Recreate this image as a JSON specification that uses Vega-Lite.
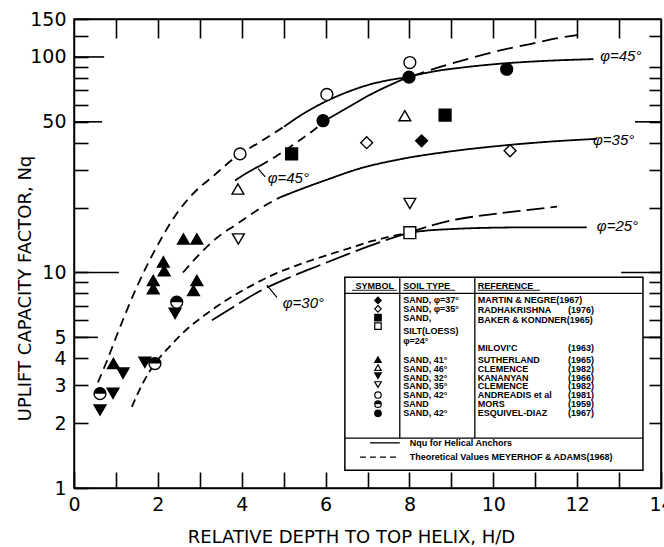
{
  "$schema": "https://vega.github.io/schema/vega-lite/v6.json",
  "width": 587,
  "height": 469,
  "autosize": {"type": "none"},
  "padding": {"left": 74, "top": 19, "right": 3, "bottom": 59},
  "background": "white",
  "config": {
    "view": {"stroke": "black", "strokeWidth": 1.5},
    "axis": {
      "grid": false,
      "labelFont": "DejaVu Sans",
      "labelFontSize": 19,
      "labelColor": "black",
      "ticks": true,
      "tickColor": "black",
      "tickWidth": 1.6,
      "tickOpacity": 1,
      "domainColor": "black",
      "domainWidth": 1.5,
      "titleFont": "DejaVu Sans",
      "titleFontSize": 18,
      "titleFontWeight": "normal",
      "titleColor": "black",
      "labelOverlap": false,
      "labelFlush": false,
      "labelBound": false,
      "zindex": 1
    }
  },
  "datasets": {
    "one": [{}],
    "curves": [
      {"curve": "Theoretical phi=45", "seg": "T45a", "x": 0.57, "y": 3.09},
      {"curve": "Theoretical phi=45", "seg": "T45a", "x": 0.79, "y": 3.91},
      {"curve": "Theoretical phi=45", "seg": "T45a", "x": 1.0, "y": 4.99},
      {"curve": "Theoretical phi=45", "seg": "T45a", "x": 1.24, "y": 6.53},
      {"curve": "Theoretical phi=45", "seg": "T45a", "x": 1.48, "y": 8.42},
      {"curve": "Theoretical phi=45", "seg": "T45a", "x": 1.74, "y": 10.77},
      {"curve": "Theoretical phi=45", "seg": "T45a", "x": 2.05, "y": 14.0},
      {"curve": "Theoretical phi=45", "seg": "T45a", "x": 2.41, "y": 18.3},
      {"curve": "Theoretical phi=45", "seg": "T45a", "x": 2.84, "y": 23.2},
      {"curve": "Theoretical phi=45", "seg": "T45a", "x": 3.31, "y": 27.9},
      {"curve": "Theoretical phi=45", "seg": "T45a", "x": 3.96, "y": 35.5},
      {"curve": "Theoretical phi=45", "seg": "T45a", "x": 4.36, "y": 39.5},
      {"curve": "Theoretical phi=45", "seg": "T45a", "x": 4.75, "y": 44.1},
      {"curve": "Theoretical phi=45", "seg": "T45a", "x": 5.01, "y": 47.5},
      {"curve": "Theoretical phi=45", "seg": "T45b", "x": 5.01, "y": 47.5},
      {"curve": "Theoretical phi=45", "seg": "T45b", "x": 5.5, "y": 55.0},
      {"curve": "Theoretical phi=45", "seg": "T45b", "x": 6.03, "y": 62.5},
      {"curve": "Theoretical phi=45", "seg": "T45b", "x": 6.5, "y": 68.5},
      {"curve": "Theoretical phi=45", "seg": "T45b", "x": 7.0, "y": 74.0},
      {"curve": "Theoretical phi=45", "seg": "T45b", "x": 7.5, "y": 78.0},
      {"curve": "Theoretical phi=45", "seg": "T45b", "x": 7.99, "y": 80.6},
      {"curve": "Theoretical phi=45", "seg": "T45c", "x": 7.99, "y": 80.6},
      {"curve": "Theoretical phi=45", "seg": "T45c", "x": 8.73, "y": 89.9},
      {"curve": "Theoretical phi=45", "seg": "T45c", "x": 9.44, "y": 98.5},
      {"curve": "Theoretical phi=45", "seg": "T45c", "x": 10.16, "y": 107.2},
      {"curve": "Theoretical phi=45", "seg": "T45c", "x": 10.88, "y": 114.8},
      {"curve": "Theoretical phi=45", "seg": "T45c", "x": 11.59, "y": 122.7},
      {"curve": "Theoretical phi=45", "seg": "T45c", "x": 12.0, "y": 126.4},
      {"curve": "Helical phi=45", "seg": "H45a", "x": 3.84, "y": 26.7},
      {"curve": "Helical phi=45", "seg": "H45a", "x": 4.1, "y": 28.8},
      {"curve": "Helical phi=45", "seg": "H45a", "x": 4.44, "y": 31.3},
      {"curve": "Helical phi=45", "seg": "H45b", "x": 4.44, "y": 31.3},
      {"curve": "Helical phi=45", "seg": "H45b", "x": 4.84, "y": 34.8},
      {"curve": "Helical phi=45", "seg": "H45b", "x": 5.22, "y": 39.0},
      {"curve": "Helical phi=45", "seg": "H45b", "x": 5.7, "y": 45.5},
      {"curve": "Helical phi=45", "seg": "H45b", "x": 5.94, "y": 49.5},
      {"curve": "Helical phi=45", "seg": "H45c", "x": 5.94, "y": 50.0},
      {"curve": "Helical phi=45", "seg": "H45c", "x": 6.5, "y": 57.8},
      {"curve": "Helical phi=45", "seg": "H45c", "x": 6.98, "y": 65.5},
      {"curve": "Helical phi=45", "seg": "H45c", "x": 7.5, "y": 73.5},
      {"curve": "Helical phi=45", "seg": "H45c", "x": 7.99, "y": 80.6},
      {"curve": "Helical phi=45", "seg": "H45c", "x": 8.56, "y": 85.5},
      {"curve": "Helical phi=45", "seg": "H45c", "x": 9.3, "y": 89.5},
      {"curve": "Helical phi=45", "seg": "H45c", "x": 10.16, "y": 93.0},
      {"curve": "Helical phi=45", "seg": "H45c", "x": 11.2, "y": 95.8},
      {"curve": "Helical phi=45", "seg": "H45c", "x": 12.39, "y": 97.7},
      {"curve": "Theoretical phi=35", "seg": "T35a", "x": 2.6, "y": 10.0},
      {"curve": "Theoretical phi=35", "seg": "T35a", "x": 3.0, "y": 12.2},
      {"curve": "Theoretical phi=35", "seg": "T35a", "x": 3.41, "y": 14.5},
      {"curve": "Theoretical phi=35", "seg": "T35a", "x": 3.89, "y": 16.8},
      {"curve": "Theoretical phi=35", "seg": "T35a", "x": 4.36, "y": 19.4},
      {"curve": "Theoretical phi=35", "seg": "T35a", "x": 4.91, "y": 22.3},
      {"curve": "Helical phi=35", "seg": "H35", "x": 4.91, "y": 22.3},
      {"curve": "Helical phi=35", "seg": "H35", "x": 5.4, "y": 24.3},
      {"curve": "Helical phi=35", "seg": "H35", "x": 6.0, "y": 26.8},
      {"curve": "Helical phi=35", "seg": "H35", "x": 6.8, "y": 30.3},
      {"curve": "Helical phi=35", "seg": "H35", "x": 7.77, "y": 33.5},
      {"curve": "Helical phi=35", "seg": "H35", "x": 9.0, "y": 36.5},
      {"curve": "Helical phi=35", "seg": "H35", "x": 10.16, "y": 38.7},
      {"curve": "Helical phi=35", "seg": "H35", "x": 11.3, "y": 40.4},
      {"curve": "Helical phi=35", "seg": "H35", "x": 12.47, "y": 41.7},
      {"curve": "Theoretical phi=30", "seg": "T30", "x": 1.38, "y": 2.38},
      {"curve": "Theoretical phi=30", "seg": "T30", "x": 1.64, "y": 3.06},
      {"curve": "Theoretical phi=30", "seg": "T30", "x": 1.93, "y": 3.78},
      {"curve": "Theoretical phi=30", "seg": "T30", "x": 2.29, "y": 4.55},
      {"curve": "Theoretical phi=30", "seg": "T30", "x": 2.69, "y": 5.45},
      {"curve": "Theoretical phi=30", "seg": "T30", "x": 3.17, "y": 6.45},
      {"curve": "Theoretical phi=30", "seg": "T30", "x": 3.64, "y": 7.45},
      {"curve": "Theoretical phi=30", "seg": "T30", "x": 4.19, "y": 8.6},
      {"curve": "Theoretical phi=30", "seg": "T30", "x": 4.74, "y": 9.75},
      {"curve": "Theoretical phi=30", "seg": "T30", "x": 5.38, "y": 10.9},
      {"curve": "Theoretical phi=30", "seg": "T30", "x": 6.02, "y": 12.0},
      {"curve": "Theoretical phi=30", "seg": "T30", "x": 6.64, "y": 13.1},
      {"curve": "Theoretical phi=30", "seg": "T30", "x": 7.12, "y": 14.0},
      {"curve": "Theoretical phi=30", "seg": "T30", "x": 7.99, "y": 15.3},
      {"curve": "Theoretical phi=25", "seg": "T25", "x": 7.99, "y": 15.3},
      {"curve": "Theoretical phi=25", "seg": "T25", "x": 8.97, "y": 17.4},
      {"curve": "Theoretical phi=25", "seg": "T25", "x": 9.75, "y": 18.4},
      {"curve": "Theoretical phi=25", "seg": "T25", "x": 10.64, "y": 19.3},
      {"curve": "Theoretical phi=25", "seg": "T25", "x": 11.52, "y": 20.2},
      {"curve": "Helical phi=30", "seg": "H30", "x": 3.29, "y": 6.0},
      {"curve": "Helical phi=30", "seg": "H30", "x": 3.79, "y": 6.9},
      {"curve": "Helical phi=30", "seg": "H30", "x": 4.36, "y": 8.05},
      {"curve": "Helical phi=30", "seg": "H30", "x": 5.15, "y": 9.5},
      {"curve": "Helical phi=30", "seg": "H30", "x": 5.86, "y": 10.8},
      {"curve": "Helical phi=30", "seg": "H30", "x": 6.5, "y": 12.1},
      {"curve": "Helical phi=30", "seg": "H30", "x": 7.05, "y": 13.3},
      {"curve": "Helical phi=30", "seg": "H30", "x": 7.99, "y": 15.3},
      {"curve": "Helical phi=25", "seg": "H25", "x": 7.99, "y": 15.3},
      {"curve": "Helical phi=25", "seg": "H25", "x": 8.5, "y": 15.7},
      {"curve": "Helical phi=25", "seg": "H25", "x": 9.0, "y": 15.9},
      {"curve": "Helical phi=25", "seg": "H25", "x": 9.75, "y": 16.1},
      {"curve": "Helical phi=25", "seg": "H25", "x": 11.0, "y": 16.2},
      {"curve": "Helical phi=25", "seg": "H25", "x": 12.23, "y": 16.2}
    ],
    "points": [
      {"src": "Kananyan 1966", "x": 0.62, "y": 2.3},
      {"src": "Kananyan 1966", "x": 0.93, "y": 2.75},
      {"src": "Kananyan 1966", "x": 1.17, "y": 3.41},
      {"src": "Kananyan 1966", "x": 1.69, "y": 3.83},
      {"src": "Kananyan 1966", "x": 2.41, "y": 6.46},
      {"src": "Mors 1959", "x": 0.62, "y": 2.74},
      {"src": "Mors 1959", "x": 1.93, "y": 3.78},
      {"src": "Mors 1959", "x": 2.45, "y": 7.28},
      {"src": "Sutherland 1965", "x": 0.94, "y": 3.78},
      {"src": "Sutherland 1965", "x": 1.89, "y": 9.18},
      {"src": "Sutherland 1965", "x": 1.89, "y": 8.4},
      {"src": "Sutherland 1965", "x": 2.13, "y": 11.2},
      {"src": "Sutherland 1965", "x": 2.15, "y": 10.2},
      {"src": "Sutherland 1965", "x": 2.61, "y": 14.3},
      {"src": "Sutherland 1965", "x": 2.93, "y": 14.3},
      {"src": "Sutherland 1965", "x": 2.93, "y": 9.18},
      {"src": "Sutherland 1965", "x": 2.85, "y": 8.25},
      {"src": "Clemence 1982 (46)", "x": 3.91, "y": 24.4},
      {"src": "Clemence 1982 (46)", "x": 7.89, "y": 53.4},
      {"src": "Clemence 1982 (35)", "x": 3.92, "y": 14.3},
      {"src": "Clemence 1982 (35)", "x": 8.01, "y": 20.9},
      {"src": "Andreadis et al 1981", "x": 3.96, "y": 35.5},
      {"src": "Andreadis et al 1981", "x": 6.03, "y": 67.0},
      {"src": "Andreadis et al 1981", "x": 8.01, "y": 94.2},
      {"src": "Esquivel-Diaz 1967", "x": 5.94, "y": 50.6},
      {"src": "Esquivel-Diaz 1967", "x": 7.99, "y": 80.6},
      {"src": "Esquivel-Diaz 1967", "x": 10.32, "y": 87.7},
      {"src": "Baker & Kondner 1965", "x": 5.19, "y": 35.5},
      {"src": "Baker & Kondner 1965", "x": 8.85, "y": 53.7},
      {"src": "Radhakrishna 1976", "x": 6.98, "y": 40.0},
      {"src": "Radhakrishna 1976", "x": 10.4, "y": 36.7},
      {"src": "Martin & Negre 1967", "x": 8.29, "y": 40.8},
      {"src": "Milovic 1963", "x": 8.01, "y": 15.3}
    ],
    "legendSymbols": [
      {"src": "Martin & Negre 1967", "ly": 7.42},
      {"src": "Radhakrishna 1976", "ly": 6.78},
      {"src": "Baker & Kondner 1965", "ly": 6.17},
      {"src": "Milovic 1963", "ly": 5.64},
      {"src": "Sutherland 1965", "ly": 3.94},
      {"src": "Clemence 1982 (46)", "ly": 3.62},
      {"src": "Kananyan 1966", "ly": 3.32},
      {"src": "Clemence 1982 (35)", "ly": 3.02},
      {"src": "Andreadis et al 1981", "ly": 2.7},
      {"src": "Mors 1959", "ly": 2.45},
      {"src": "Esquivel-Diaz 1967", "ly": 2.22}
    ],
    "legendText": [
      {"col": "soil", "text": "SAND, φ=37°", "ly": 7.42},
      {"col": "soil", "text": "SAND, φ=35°", "ly": 6.78},
      {"col": "soil", "text": "SAND,", "ly": 6.17},
      {"col": "soil", "text": "SILT(LOESS)", "ly": 5.36},
      {"col": "soil", "text": "φ=24°", "ly": 4.79},
      {"col": "soil", "text": "SAND, 41°", "ly": 3.94},
      {"col": "soil", "text": "SAND, 46°", "ly": 3.58},
      {"col": "soil", "text": "SAND, 32°", "ly": 3.25},
      {"col": "soil", "text": "SAND, 35°", "ly": 2.96},
      {"col": "soil", "text": "SAND, 42°", "ly": 2.69},
      {"col": "soil", "text": "SAND", "ly": 2.45},
      {"col": "soil", "text": "SAND, 42°", "ly": 2.22},
      {"col": "ref", "text": "MARTIN & NEGRE(1967)", "ly": 7.42},
      {"col": "ref", "text": "RADHAKRISHNA", "ly": 6.72},
      {"col": "ref", "text": "BAKER & KONDNER(1965)", "ly": 6.0},
      {"col": "ref", "text": "MILOVI'C", "ly": 4.48},
      {"col": "ref", "text": "SUTHERLAND", "ly": 3.94},
      {"col": "ref", "text": "CLEMENCE", "ly": 3.58},
      {"col": "ref", "text": "KANANYAN", "ly": 3.25},
      {"col": "ref", "text": "CLEMENCE", "ly": 2.96},
      {"col": "ref", "text": "ANDREADIS et al", "ly": 2.69},
      {"col": "ref", "text": "MORS", "ly": 2.45},
      {"col": "ref", "text": "ESQUIVEL-DIAZ", "ly": 2.22},
      {"col": "year", "text": "(1976)", "ly": 6.72},
      {"col": "year", "text": "(1963)", "ly": 4.48},
      {"col": "year", "text": "(1965)", "ly": 3.94},
      {"col": "year", "text": "(1982)", "ly": 3.58},
      {"col": "year", "text": "(1966)", "ly": 3.25},
      {"col": "year", "text": "(1982)", "ly": 2.96},
      {"col": "year", "text": "(1981)", "ly": 2.69},
      {"col": "year", "text": "(1959)", "ly": 2.45},
      {"col": "year", "text": "(1967)", "ly": 2.22}
    ]
  },
  "layer": [
    {
      "data": {"name": "curves"},
      "mark": {"type": "line", "color": "black", "strokeWidth": 1.8, "interpolate": "monotone"},
      "encoding": {
        "x": {
          "field": "x", "type": "quantitative",
          "scale": {"domain": [0, 14], "nice": false, "zero": false},
          "axis": {
            "orient": "bottom",
            "values": [0, 1, 2, 3, 4, 5, 6, 7, 8, 9, 10, 11, 12, 13, 14],
            "labelExpr": "datum.value % 2 === 0 ? format(datum.value, 'd') : ''",
            "tickSize": -16,
            "labelPadding": 23,
            "title": "RELATIVE DEPTH TO TOP HELIX, H/D",
            "titleX": 277,
            "titleY": 54,
            "titleAlign": "center",
            "titleBaseline": "alphabetic"
          }
        },
        "y": {
          "field": "y", "type": "quantitative",
          "scale": {"type": "log", "domain": [1, 150], "nice": false},
          "axis": {
            "orient": "left",
            "values": [1, 2, 3, 4, 5, 6, 7, 8, 9, 10, 20, 30, 40, 50, 60, 70, 80, 90, 100, 125, 150],
            "labelExpr": "indexof([1,2,3,4,5,10,50,100,150], datum.value) >= 0 ? format(datum.value, 'd') : ''",
            "tickSize": -14,
            "labelPadding": 22,
            "title": "UPLIFT CAPACITY FACTOR, Nq",
            "titleX": -49,
            "titleY": 269,
            "titleAlign": "center",
            "titleBaseline": "middle",
            "titleAngle": -90
          }
        },
        "detail": {"field": "seg", "type": "nominal"},
        "strokeDash": {
          "field": "seg", "type": "nominal",
          "scale": {
            "domain": ["T45a", "T45b", "T45c", "H45a", "H45b", "H45c", "T35a", "H35", "T30", "T25", "H30", "H25"],
            "range": [[9, 6], [1, 0], [16, 7], [1, 0], [9, 6], [1, 0], [9, 6], [1, 0], [8, 5], [18, 6], [26, 6], [1, 0]]
          },
          "legend": null
        }
      }
    },
    {
      "data": {"name": "one"},
      "mark": {"type": "rule", "color": "black", "strokeWidth": 1.6},
      "encoding": {
        "x": {"datum": 0, "type": "quantitative", "axis": null},
        "x2": {"datum": 1.07},
        "y": {"datum": 10, "type": "quantitative", "axis": null}
      }
    },
    {
      "data": {"name": "one"},
      "mark": {"type": "rule", "color": "black", "strokeWidth": 1.6},
      "encoding": {
        "x": {"datum": 0, "type": "quantitative", "axis": null},
        "x2": {"datum": 0.72},
        "y": {"datum": 100, "type": "quantitative", "axis": null}
      }
    },
    {
      "data": {"name": "one"},
      "mark": {"type": "rule", "color": "black", "strokeWidth": 1.6},
      "encoding": {
        "x": {"datum": 0, "type": "quantitative", "axis": null},
        "x2": {"datum": 0.67},
        "y": {"datum": 50, "type": "quantitative", "axis": null}
      }
    },
    {
      "data": {"name": "one"},
      "mark": {"type": "rule", "color": "black", "strokeWidth": 1.6},
      "encoding": {
        "x": {"datum": 0, "type": "quantitative", "axis": null},
        "x2": {"datum": 0.57},
        "y": {"datum": 5, "type": "quantitative", "axis": null}
      }
    },
    {
      "data": {"name": "one"},
      "mark": {"type": "rule", "color": "black", "strokeWidth": 1.6},
      "encoding": {
        "x": {"datum": 13.05, "type": "quantitative", "axis": null},
        "x2": {"datum": 14},
        "y": {"datum": 10, "type": "quantitative", "axis": null}
      }
    },
    {
      "data": {"name": "one"},
      "mark": {"type": "rule", "color": "black", "strokeWidth": 1.6},
      "encoding": {
        "x": {"datum": 13.19, "type": "quantitative", "axis": null},
        "x2": {"datum": 14},
        "y": {"datum": 5, "type": "quantitative", "axis": null}
      }
    },
    {
      "data": {"name": "one"},
      "mark": {"type": "rule", "color": "black", "strokeWidth": 1.6},
      "encoding": {
        "x": {"datum": 13.38, "type": "quantitative", "axis": null},
        "x2": {"datum": 14},
        "y": {"datum": 50, "type": "quantitative", "axis": null}
      }
    },
    {
      "data": {"name": "one"},
      "mark": {"type": "rect", "fill": "white", "stroke": "black", "strokeWidth": 1.5},
      "encoding": {
        "x": {"datum": 6.46, "type": "quantitative", "axis": null},
        "x2": {"datum": 13.57},
        "y": {"datum": 9.5, "type": "quantitative", "axis": null},
        "y2": {"datum": 1.21}
      }
    },
    {
      "data": {"name": "one"},
      "mark": {"type": "rule", "color": "black", "strokeWidth": 1.3},
      "encoding": {
        "x": {"datum": 6.46, "type": "quantitative", "axis": null},
        "x2": {"datum": 13.57},
        "y": {"datum": 8.0, "type": "quantitative", "axis": null}
      }
    },
    {
      "data": {"name": "one"},
      "mark": {"type": "rule", "color": "black", "strokeWidth": 1.3},
      "encoding": {
        "x": {"datum": 6.46, "type": "quantitative", "axis": null},
        "x2": {"datum": 13.57},
        "y": {"datum": 1.705, "type": "quantitative", "axis": null}
      }
    },
    {
      "data": {"name": "one"},
      "mark": {"type": "rule", "color": "black", "strokeWidth": 1.3},
      "encoding": {
        "x": {"datum": 7.77, "type": "quantitative", "axis": null},
        "y": {"datum": 9.5, "type": "quantitative", "axis": null},
        "y2": {"datum": 1.705}
      }
    },
    {
      "data": {"name": "one"},
      "mark": {"type": "rule", "color": "black", "strokeWidth": 1.3},
      "encoding": {
        "x": {"datum": 9.56, "type": "quantitative", "axis": null},
        "y": {"datum": 9.5, "type": "quantitative", "axis": null},
        "y2": {"datum": 1.705}
      }
    },
    {
      "data": {"name": "one"},
      "mark": {"type": "rule", "color": "black", "strokeWidth": 0.9},
      "encoding": {
        "x": {"datum": 6.63, "type": "quantitative", "axis": null},
        "x2": {"datum": 7.7},
        "y": {"datum": 8.27, "type": "quantitative", "axis": null}
      }
    },
    {
      "data": {"name": "one"},
      "mark": {"type": "rule", "color": "black", "strokeWidth": 0.9},
      "encoding": {
        "x": {"datum": 7.85, "type": "quantitative", "axis": null},
        "x2": {"datum": 9.09},
        "y": {"datum": 8.27, "type": "quantitative", "axis": null}
      }
    },
    {
      "data": {"name": "one"},
      "mark": {"type": "rule", "color": "black", "strokeWidth": 0.9},
      "encoding": {
        "x": {"datum": 9.63, "type": "quantitative", "axis": null},
        "x2": {"datum": 11.11},
        "y": {"datum": 8.27, "type": "quantitative", "axis": null}
      }
    },
    {
      "data": {"name": "one"},
      "mark": {"type": "rule", "color": "black", "strokeWidth": 1.3},
      "encoding": {
        "x": {"datum": 7.06, "type": "quantitative", "axis": null},
        "x2": {"datum": 7.77},
        "y": {"datum": 1.62, "type": "quantitative", "axis": null}
      }
    },
    {
      "data": {"name": "one"},
      "mark": {"type": "rule", "color": "black", "strokeWidth": 1.3, "strokeDash": [6, 4]},
      "encoding": {
        "x": {"datum": 6.82, "type": "quantitative", "axis": null},
        "x2": {"datum": 7.77},
        "y": {"datum": 1.39, "type": "quantitative", "axis": null}
      }
    },
    {
      "data": {"name": "points"},
      "mark": {"type": "point", "stroke": "black", "strokeWidth": 1.4, "opacity": 1},
      "encoding": {
        "x": {
          "field": "x", "type": "quantitative",
          "axis": {"orient": "top", "values": [1, 2, 3, 4, 5, 6, 7, 8, 9, 10, 11, 12, 13], "labels": false, "title": null, "tickSize": -19}
        },
        "y": {
          "field": "y", "type": "quantitative",
          "axis": {
            "orient": "right",
            "values": [2, 3, 4, 5, 6, 7, 8, 9, 10, 20, 30, 40, 50, 60, 70, 80, 90, 125],
            "labels": false,
            "title": null,
            "tickSize": -12
          }
        },
        "shape": {
          "field": "src", "type": "nominal",
          "scale": {
            "domain": ["Martin & Negre 1967", "Radhakrishna 1976", "Baker & Kondner 1965", "Milovic 1963", "Sutherland 1965", "Clemence 1982 (46)", "Kananyan 1966", "Clemence 1982 (35)", "Andreadis et al 1981", "Mors 1959", "Esquivel-Diaz 1967"],
            "range": ["diamond", "diamond", "square", "square", "triangle-up", "triangle-up", "triangle-down", "triangle-down", "circle", "circle", "circle"]
          },
          "legend": null
        },
        "fill": {
          "field": "src", "type": "nominal",
          "scale": {
            "domain": ["Martin & Negre 1967", "Radhakrishna 1976", "Baker & Kondner 1965", "Milovic 1963", "Sutherland 1965", "Clemence 1982 (46)", "Kananyan 1966", "Clemence 1982 (35)", "Andreadis et al 1981", "Mors 1959", "Esquivel-Diaz 1967"],
            "range": ["black", "white", "black", "white", "black", "white", "black", "white", "white", "white", "black"]
          },
          "legend": null
        },
        "size": {
          "field": "src", "type": "nominal",
          "scale": {
            "domain": ["Martin & Negre 1967", "Radhakrishna 1976", "Baker & Kondner 1965", "Milovic 1963", "Sutherland 1965", "Clemence 1982 (46)", "Kananyan 1966", "Clemence 1982 (35)", "Andreadis et al 1981", "Mors 1959", "Esquivel-Diaz 1967"],
            "range": [140, 140, 95, 95, 140, 140, 140, 140, 115, 115, 115]
          },
          "legend": null
        }
      }
    },
    {
      "data": {"name": "points"},
      "transform": [{"filter": "datum.src === 'Mors 1959'"}],
      "mark": {"type": "point", "shape": "M-1,0A1,1,0,0,1,1,0Z", "fill": "black", "filled": true, "opacity": 1, "strokeWidth": 0},
      "encoding": {
        "x": {"field": "x", "type": "quantitative", "axis": null},
        "y": {"field": "y", "type": "quantitative", "axis": null},
        "size": {"field": "src", "type": "nominal", "legend": null}
      }
    },
    {
      "data": {"name": "legendSymbols"},
      "mark": {"type": "point", "stroke": "black", "strokeWidth": 1.2, "size": 42, "opacity": 1},
      "encoding": {
        "x": {"datum": 7.25, "type": "quantitative", "axis": null},
        "y": {"field": "ly", "type": "quantitative", "axis": null},
        "shape": {"field": "src", "type": "nominal", "legend": null},
        "fill": {"field": "src", "type": "nominal", "legend": null}
      }
    },
    {
      "data": {"name": "legendSymbols"},
      "transform": [{"filter": "datum.src === 'Mors 1959'"}],
      "mark": {"type": "point", "shape": "M-1,0A1,1,0,0,1,1,0Z", "fill": "black", "filled": true, "size": 42, "opacity": 1, "strokeWidth": 0},
      "encoding": {
        "x": {"datum": 7.25, "type": "quantitative", "axis": null},
        "y": {"field": "ly", "type": "quantitative", "axis": null}
      }
    },
    {
      "data": {"name": "legendText"},
      "transform": [{"filter": "datum.col === 'soil'"}],
      "mark": {"type": "text", "align": "left", "baseline": "middle", "font": "Liberation Sans", "fontSize": 9, "fontWeight": "bold", "color": "black"},
      "encoding": {
        "x": {"datum": 7.85, "type": "quantitative", "axis": null},
        "y": {"field": "ly", "type": "quantitative", "axis": null},
        "text": {"field": "text"}
      }
    },
    {
      "data": {"name": "legendText"},
      "transform": [{"filter": "datum.col === 'ref'"}],
      "mark": {"type": "text", "align": "left", "baseline": "middle", "font": "Liberation Sans", "fontSize": 9, "fontWeight": "bold", "color": "black"},
      "encoding": {
        "x": {"datum": 9.63, "type": "quantitative", "axis": null},
        "y": {"field": "ly", "type": "quantitative", "axis": null},
        "text": {"field": "text"}
      }
    },
    {
      "data": {"name": "legendText"},
      "transform": [{"filter": "datum.col === 'year'"}],
      "mark": {"type": "text", "align": "left", "baseline": "middle", "font": "Liberation Sans", "fontSize": 9, "fontWeight": "bold", "color": "black"},
      "encoding": {
        "x": {"datum": 11.78, "type": "quantitative", "axis": null},
        "y": {"field": "ly", "type": "quantitative", "axis": null},
        "text": {"field": "text"}
      }
    },
    {
      "data": {"name": "one"},
      "mark": {"type": "text", "align": "center", "baseline": "middle", "font": "Liberation Sans", "fontSize": 9, "fontWeight": "bold", "color": "black"},
      "encoding": {
        "x": {"datum": 7.17, "type": "quantitative", "axis": null},
        "y": {"datum": 8.66, "type": "quantitative", "axis": null},
        "text": {"value": "SYMBOL"}
      }
    },
    {
      "data": {"name": "one"},
      "mark": {"type": "text", "align": "left", "baseline": "middle", "font": "Liberation Sans", "fontSize": 9, "fontWeight": "bold", "color": "black"},
      "encoding": {
        "x": {"datum": 7.85, "type": "quantitative", "axis": null},
        "y": {"datum": 8.66, "type": "quantitative", "axis": null},
        "text": {"value": "SOIL TYPE"}
      }
    },
    {
      "data": {"name": "one"},
      "mark": {"type": "text", "align": "left", "baseline": "middle", "font": "Liberation Sans", "fontSize": 9, "fontWeight": "bold", "color": "black"},
      "encoding": {
        "x": {"datum": 9.63, "type": "quantitative", "axis": null},
        "y": {"datum": 8.66, "type": "quantitative", "axis": null},
        "text": {"value": "REFERENCE"}
      }
    },
    {
      "data": {"name": "one"},
      "mark": {"type": "text", "align": "left", "baseline": "middle", "font": "Liberation Sans", "fontSize": 9, "fontWeight": "bold", "color": "black"},
      "encoding": {
        "x": {"datum": 8.01, "type": "quantitative", "axis": null},
        "y": {"datum": 1.62, "type": "quantitative", "axis": null},
        "text": {"value": "Nqu for Helical Anchors"}
      }
    },
    {
      "data": {"name": "one"},
      "mark": {"type": "text", "align": "left", "baseline": "middle", "font": "Liberation Sans", "fontSize": 9, "fontWeight": "bold", "color": "black"},
      "encoding": {
        "x": {"datum": 8.01, "type": "quantitative", "axis": null},
        "y": {"datum": 1.39, "type": "quantitative", "axis": null},
        "text": {"value": "Theoretical Values  MEYERHOF  & ADAMS(1968)"}
      }
    },
    {
      "data": {"name": "one"},
      "mark": {"type": "text", "align": "left", "baseline": "middle", "font": "Liberation Sans", "fontSize": 15, "fontStyle": "italic", "color": "black"},
      "encoding": {
        "x": {"datum": 12.55, "type": "quantitative", "axis": null},
        "y": {"datum": 101, "type": "quantitative", "axis": null},
        "text": {"value": "φ=45°"}
      }
    },
    {
      "data": {"name": "one"},
      "mark": {"type": "text", "align": "left", "baseline": "middle", "font": "Liberation Sans", "fontSize": 15, "fontStyle": "italic", "color": "black"},
      "encoding": {
        "x": {"datum": 12.38, "type": "quantitative", "axis": null},
        "y": {"datum": 41, "type": "quantitative", "axis": null},
        "text": {"value": "φ=35°"}
      }
    },
    {
      "data": {"name": "one"},
      "mark": {"type": "text", "align": "left", "baseline": "middle", "font": "Liberation Sans", "fontSize": 15, "fontStyle": "italic", "color": "black"},
      "encoding": {
        "x": {"datum": 12.47, "type": "quantitative", "axis": null},
        "y": {"datum": 16.4, "type": "quantitative", "axis": null},
        "text": {"value": "φ=25°"}
      }
    },
    {
      "data": {"name": "one"},
      "mark": {"type": "text", "align": "left", "baseline": "middle", "font": "Liberation Sans", "fontSize": 15, "fontStyle": "italic", "color": "black"},
      "encoding": {
        "x": {"datum": 4.62, "type": "quantitative", "axis": null},
        "y": {"datum": 27.3, "type": "quantitative", "axis": null},
        "text": {"value": "φ=45°"}
      }
    },
    {
      "data": {"name": "one"},
      "mark": {"type": "text", "align": "left", "baseline": "middle", "font": "Liberation Sans", "fontSize": 15, "fontStyle": "italic", "color": "black"},
      "encoding": {
        "x": {"datum": 4.98, "type": "quantitative", "axis": null},
        "y": {"datum": 7.2, "type": "quantitative", "axis": null},
        "text": {"value": "φ=30°"}
      }
    },
    {
      "data": {"name": "one"},
      "mark": {"type": "rule", "color": "black", "strokeWidth": 1.2},
      "encoding": {
        "x": {"datum": 4.39, "type": "quantitative", "axis": null},
        "x2": {"datum": 4.56},
        "y": {"datum": 30.3, "type": "quantitative", "axis": null},
        "y2": {"datum": 27.8}
      }
    },
    {
      "data": {"name": "one"},
      "mark": {"type": "rule", "color": "black", "strokeWidth": 1.2},
      "encoding": {
        "x": {"datum": 4.6, "type": "quantitative", "axis": null},
        "x2": {"datum": 4.84},
        "y": {"datum": 8.73, "type": "quantitative", "axis": null},
        "y2": {"datum": 7.67}
      }
    }
  ],
  "resolve": {"axis": {"x": "independent", "y": "independent"}}
}
